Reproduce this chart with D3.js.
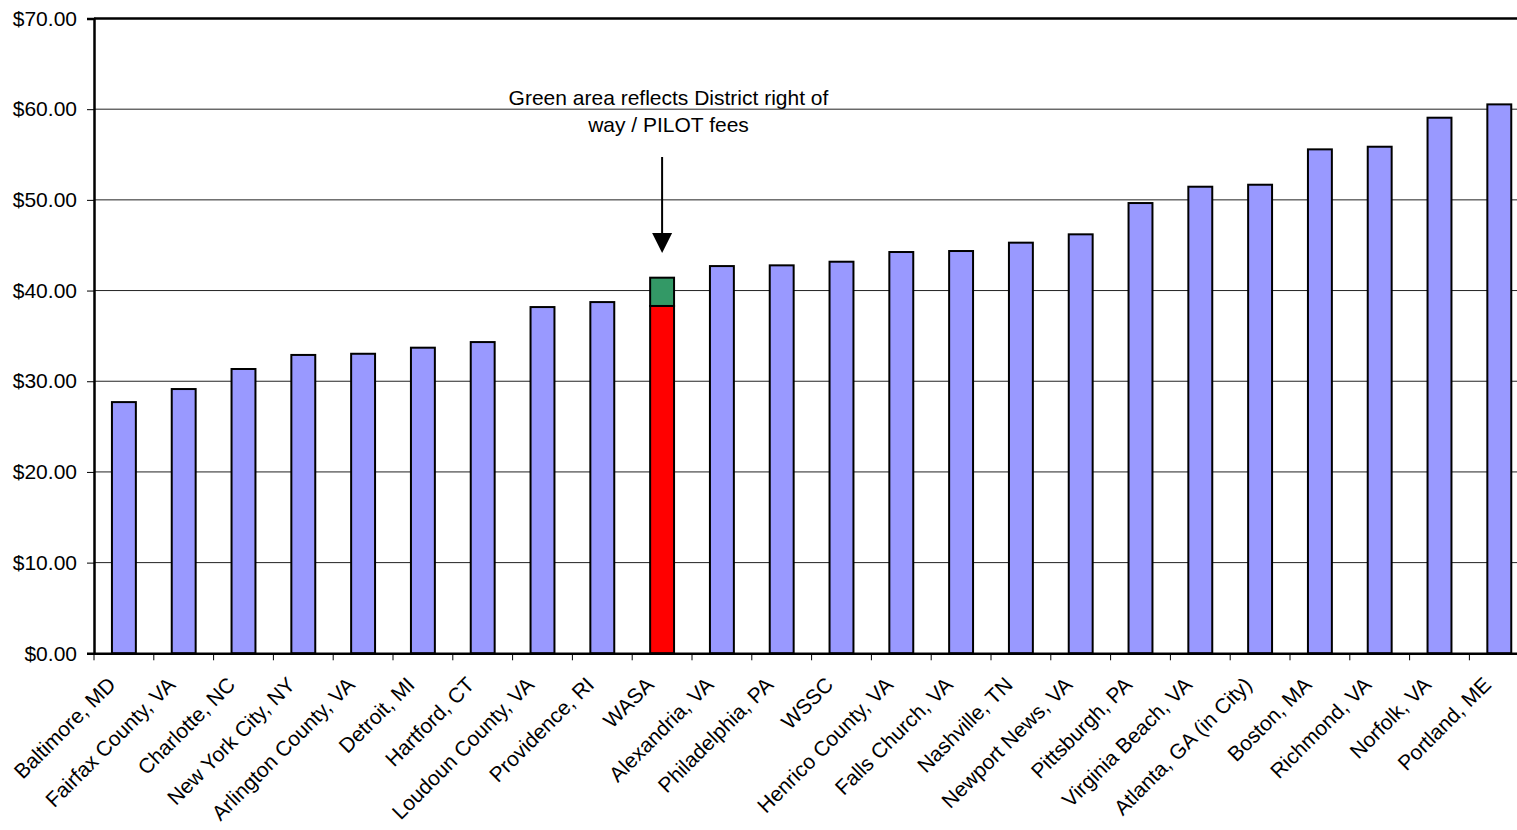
<!DOCTYPE html>
<html>
<head>
<meta charset="utf-8">
<script src="https://cdn.jsdelivr.net/npm/d3@7"></script>
<style>
  html, body { margin: 0; padding: 0; background: #fff; overflow: hidden; }
  svg { display: block; font-family: Arial, "Liberation Sans", sans-serif; }
</style>
</head>
<body>
<svg id="chart" width="1517" height="830"></svg>
<script>
const categories = ["Baltimore, MD","Fairfax County, VA","Charlotte, NC","New York City, NY","Arlington County, VA","Detroit, MI","Hartford, CT","Loudoun County, VA","Providence, RI","WASA","Alexandria, VA","Philadelphia, PA","WSSC","Henrico County, VA","Falls Church, VA","Nashville, TN","Newport News, VA","Pittsburgh, PA","Virginia Beach, VA","Atlanta, GA (in City)","Boston, MA","Richmond, VA","Norfolk, VA","Portland, ME"];
const baseValues = [27.7, 29.14, 31.35, 32.9, 33.03, 33.7, 34.32, 38.18, 38.73, 38.3, 42.7, 42.78, 43.18, 44.25, 44.36, 45.28, 46.2, 49.65, 51.45, 51.67, 55.57, 55.86, 59.06, 60.53];
const pilotValues = [0,0,0,0,0,0,0,0,0,3.12,0,0,0,0,0,0,0,0,0,0,0,0,0,0];
const highlight = "WASA";
const yTicks = [0, 10, 20, 30, 40, 50, 60, 70];
const annotationLines = ["Green area reflects District right of", "way / PILOT fees"];

const svg = d3.select("#chart");
const mLeft = 94, mTop = 18.5, mBottom = 653.3, plotW = 24 * 59.8;

const x = d3.scaleBand().domain(categories).range([mLeft, mLeft + plotW]).paddingInner(0.6).paddingOuter(0.3);
const y = d3.scaleLinear().domain([0, 70]).range([mBottom, mTop]);

// gridlines
svg.append("g").selectAll("line").data(yTicks.filter(d => d > 0 && d < 70)).join("line")
  .attr("x1", mLeft).attr("x2", mLeft + plotW)
  .attr("y1", d => y(d)).attr("y2", d => y(d))
  .attr("stroke", "#222").attr("stroke-width", 1);

// bars
const data = categories.map((c, i) => ({ c, base: baseValues[i], pilot: pilotValues[i] }));
const g = svg.append("g");
g.selectAll("rect.base").data(data).join("rect")
  .attr("class", "base")
  .attr("x", d => x(d.c)).attr("width", x.bandwidth())
  .attr("y", d => y(d.base)).attr("height", d => y(0) - y(d.base))
  .attr("fill", d => d.c === highlight ? "#FF0000" : "#9999FF")
  .attr("stroke", "#000").attr("stroke-width", 2);
g.selectAll("rect.pilot").data(data.filter(d => d.pilot > 0)).join("rect")
  .attr("class", "pilot")
  .attr("x", d => x(d.c)).attr("width", x.bandwidth())
  .attr("y", d => y(d.base + d.pilot)).attr("height", d => y(d.base) - y(d.base + d.pilot))
  .attr("fill", "#339966")
  .attr("stroke", "#000").attr("stroke-width", 2);

// top border
svg.append("line").attr("x1", mLeft).attr("x2", mLeft + plotW)
  .attr("y1", y(70)).attr("y2", y(70)).attr("stroke", "#000").attr("stroke-width", 2.5);

// y axis
const yAxis = d3.axisLeft(y).tickValues(yTicks).tickSize(7).tickFormat(d => "$" + d3.format(".2f")(d));
const ya = svg.append("g").attr("transform", `translate(${mLeft},0)`).call(yAxis);
ya.select(".domain").attr("stroke", "#000").attr("stroke-width", 2.5);
ya.selectAll(".tick line").attr("stroke", "#000").attr("stroke-width", 1);
ya.selectAll(".tick text").attr("font-size", 21).attr("fill", "#000").attr("x", -17)
  .attr("font-family", "Arial, 'Liberation Sans', sans-serif");

// x axis
const xa = svg.append("g").attr("transform", `translate(0,${mBottom})`)
  .call(d3.axisBottom(x).tickSize(0).tickFormat(""));
xa.select(".domain").attr("stroke", "#000").attr("stroke-width", 2.5);
xa.selectAll(".tick").remove();
const step = x.step();
svg.append("g").selectAll("line").data(d3.range(categories.length + 1)).join("line")
  .attr("x1", i => mLeft + i * step).attr("x2", i => mLeft + i * step)
  .attr("y1", mBottom).attr("y2", mBottom + 7)
  .attr("stroke", "#000").attr("stroke-width", 1);

// category labels
svg.append("g").selectAll("text").data(categories).join("text")
  .attr("transform", d => `translate(${x(d) + x.bandwidth() / 2 - 7},686) rotate(-45)`)
  .attr("text-anchor", "end")
  .attr("font-size", 21).attr("fill", "#000")
  .text(d => d);

// annotation
const hx = x(highlight) + x.bandwidth() / 2;
svg.append("g").selectAll("text").data(annotationLines).join("text")
  .attr("x", 668.5).attr("y", (d, i) => 105 + i * 26.5)
  .attr("text-anchor", "middle").attr("font-size", 21).attr("fill", "#000")
  .text(d => d);
svg.append("line").attr("x1", hx).attr("x2", hx).attr("y1", 157).attr("y2", 235)
  .attr("stroke", "#000").attr("stroke-width", 2);
svg.append("path").attr("d", `M${hx - 10},233 L${hx + 10},233 L${hx},253 Z`).attr("fill", "#000");
</script>
</body>
</html>
